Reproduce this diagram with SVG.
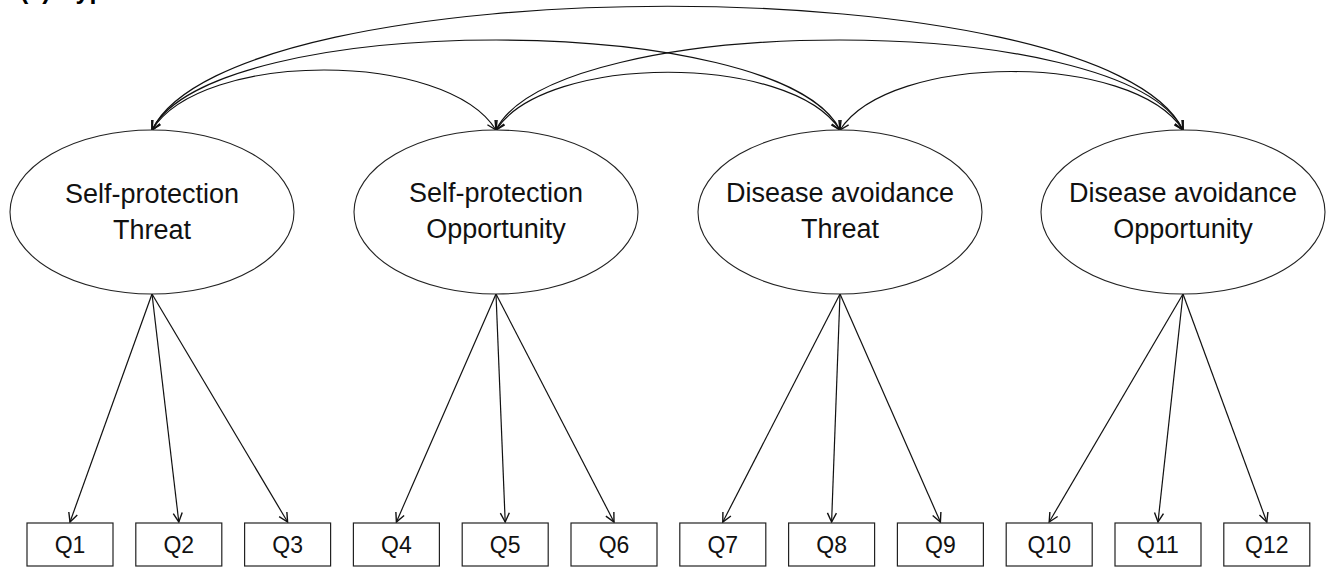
<svg xmlns="http://www.w3.org/2000/svg" width="1327" height="567" viewBox="0 0 1327 567">
<style>
.ell{fill:#fff;stroke:#222;stroke-width:1.1}
.box{fill:#fff;stroke:#222;stroke-width:1.2}
.lat{font-family:"Liberation Sans",Arial,sans-serif;font-size:27px;fill:#111;text-anchor:middle}
.obs{font-family:"Liberation Sans",Arial,sans-serif;font-size:23px;fill:#111;text-anchor:middle}
.con path{fill:none;stroke:#111;stroke-width:1.2}
.ttl{font-family:"Liberation Sans",Arial,sans-serif;font-size:25px;font-weight:bold;fill:#000}
</style>
<defs>
<marker id="ah" viewBox="-11 -6 13 12" refX="0" refY="0" markerWidth="13" markerHeight="12" markerUnits="userSpaceOnUse" orient="auto-start-reverse">
<path d="M-9,-4.5 L0,0 L-9,4.5" fill="none" stroke="#111" stroke-width="1.4"/>
</marker>
</defs>
<rect width="1327" height="567" fill="#fff"/>
<text class="ttl" x="20" y="-1.5">(a) Hypothesized model</text>
<g id="connectors" class="con">
<path d="M152,130 C202,50 446,50 496,130" marker-start="url(#ah)" marker-end="url(#ah)"/>
<path d="M496,130 C546,53 790,53 840,130" marker-start="url(#ah)" marker-end="url(#ah)"/>
<path d="M840,130 C890,52 1133,52 1183,130" marker-start="url(#ah)" marker-end="url(#ah)"/>
<path d="M152,130 C212,10 780,10 840,130" marker-start="url(#ah)" marker-end="url(#ah)"/>
<path d="M496,130 C556,10 1123,10 1183,130" marker-start="url(#ah)" marker-end="url(#ah)"/>
<path d="M152,130 C232,-35 1103,-35 1183,130" marker-start="url(#ah)" marker-end="url(#ah)"/>
<path d="M152,294 L70,522" marker-end="url(#ah)"/>
<path d="M152,294 L178.8,522" marker-end="url(#ah)"/>
<path d="M152,294 L287.6,522" marker-end="url(#ah)"/>
<path d="M496,294 L396.4,522" marker-end="url(#ah)"/>
<path d="M496,294 L505.2,522" marker-end="url(#ah)"/>
<path d="M496,294 L614,522" marker-end="url(#ah)"/>
<path d="M840,294 L722.8,522" marker-end="url(#ah)"/>
<path d="M840,294 L831.6,522" marker-end="url(#ah)"/>
<path d="M840,294 L940.4,522" marker-end="url(#ah)"/>
<path d="M1183,294 L1049.2,522" marker-end="url(#ah)"/>
<path d="M1183,294 L1158,522" marker-end="url(#ah)"/>
<path d="M1183,294 L1266.8,522" marker-end="url(#ah)"/>
</g>
<g id="spt"><ellipse class="ell" cx="152" cy="212" rx="142" ry="82"/><text class="lat" x="152" y="203">Self-protection</text><text class="lat" x="152" y="239">Threat</text></g>
<g id="spo"><ellipse class="ell" cx="496" cy="212" rx="142" ry="82"/><text class="lat" x="496" y="202">Self-protection</text><text class="lat" x="496" y="238">Opportunity</text></g>
<g id="dat"><ellipse class="ell" cx="840" cy="212" rx="142" ry="82"/><text class="lat" x="840" y="202">Disease avoidance</text><text class="lat" x="840" y="238">Threat</text></g>
<g id="dao"><ellipse class="ell" cx="1183" cy="212" rx="142" ry="82"/><text class="lat" x="1183" y="202">Disease avoidance</text><text class="lat" x="1183" y="238">Opportunity</text></g>
<g id="q1"><rect class="box" x="27" y="523" width="86" height="43"/><text class="obs" x="70" y="553">Q1</text></g>
<g id="q2"><rect class="box" x="135.8" y="523" width="86" height="43"/><text class="obs" x="178.8" y="553">Q2</text></g>
<g id="q3"><rect class="box" x="244.6" y="523" width="86" height="43"/><text class="obs" x="287.6" y="553">Q3</text></g>
<g id="q4"><rect class="box" x="353.4" y="523" width="86" height="43"/><text class="obs" x="396.4" y="553">Q4</text></g>
<g id="q5"><rect class="box" x="462.2" y="523" width="86" height="43"/><text class="obs" x="505.2" y="553">Q5</text></g>
<g id="q6"><rect class="box" x="571" y="523" width="86" height="43"/><text class="obs" x="614" y="553">Q6</text></g>
<g id="q7"><rect class="box" x="679.8" y="523" width="86" height="43"/><text class="obs" x="722.8" y="553">Q7</text></g>
<g id="q8"><rect class="box" x="788.6" y="523" width="86" height="43"/><text class="obs" x="831.6" y="553">Q8</text></g>
<g id="q9"><rect class="box" x="897.4" y="523" width="86" height="43"/><text class="obs" x="940.4" y="553">Q9</text></g>
<g id="q10"><rect class="box" x="1006.2" y="523" width="86" height="43"/><text class="obs" x="1049.2" y="553">Q10</text></g>
<g id="q11"><rect class="box" x="1115" y="523" width="86" height="43"/><text class="obs" x="1158" y="553">Q11</text></g>
<g id="q12"><rect class="box" x="1223.8" y="523" width="86" height="43"/><text class="obs" x="1266.8" y="553">Q12</text></g>
</svg>
